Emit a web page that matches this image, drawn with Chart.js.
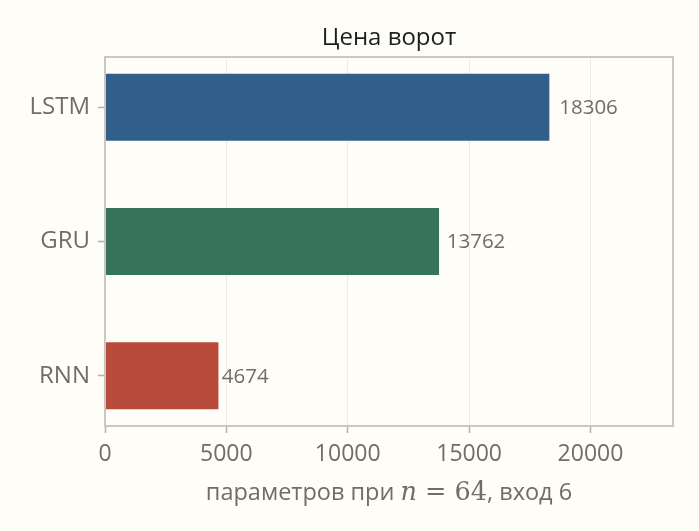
<!DOCTYPE html>
<html>
<head>
<meta charset="utf-8">
<script src="https://cdn.jsdelivr.net/npm/chart.js@4"></script>
<style>
  html, body { margin: 0; padding: 0; background: #fffdf8; }
  #wrap { width: 699px; height: 531px; }
</style>
</head>
<body>
<div id="wrap"><canvas id="gates"></canvas></div>
<script>
// данные
const categories = ['RNN', 'GRU', 'LSTM'];
const values = [4674, 13762, 18306];
const xTicks = [0, 5000, 10000, 15000, 20000];
const title = 'Цена ворот';
const xLabelParts = [
  { text: 'параметров при ', math: false },
  { text: 'n', math: 'italic' },
  { text: ' = 64', math: 'normal' },
  { text: ', вход 6', math: false }
];

const barColors = ['#b94b3d', '#37735c', '#2f5f8a'];
const gray = '#6e6e67';
const spine = '#cac8be';
const sans = "'Open Sans', sans-serif";
const serif = "'DejaVu Serif', serif";

Chart.defaults.font.family = sans;

// marco, título, etiquetas de valores y título del eje
const decor = {
  id: 'decor',
  afterDatasetsDraw(chart) {
    const { ctx, chartArea: a } = chart;
    const xs = chart.scales.x;
    ctx.save();

    ctx.font = '20.5px ' + sans;
    ctx.fillStyle = gray;
    ctx.textBaseline = 'middle';
    ctx.textAlign = 'left';
    chart.getDatasetMeta(0).data.forEach((bar, i) => {
      ctx.fillText(String(values[i]), xs.getPixelForValue(values[i] * 1.02) + 1, bar.y + 1);
    });

    ctx.strokeStyle = spine;
    ctx.lineWidth = 2;
    ctx.strokeRect(a.left, a.top, a.right - a.left, a.bottom - a.top);

    const cx = (a.left + a.right) / 2;
    ctx.font = '24px ' + sans;
    ctx.fillStyle = '#1e1e1e';
    ctx.textAlign = 'center';
    ctx.fillText(title, cx, 38);

    const fontOf = p => p.math === 'italic' ? 'italic 25.5px ' + serif
      : p.math === 'normal' ? '25.5px ' + serif : '23.5px ' + sans;
    let total = 0;
    xLabelParts.forEach(p => { ctx.font = fontOf(p); total += ctx.measureText(p.text).width; });
    let x = cx - total / 2;
    ctx.textAlign = 'left';
    ctx.fillStyle = gray;
    xLabelParts.forEach(p => {
      ctx.font = fontOf(p);
      ctx.fillText(p.text, x, 493);
      x += ctx.measureText(p.text).width;
    });
    ctx.restore();
  }
};

new Chart(document.getElementById('gates'), {
  type: 'bar',
  data: {
    datasets: [{
      data: values.map((v, i) => ({ x: v, y: i })),
      backgroundColor: barColors,
      borderWidth: 0,
      barPercentage: 0.5,
      categoryPercentage: 1
    }]
  },
  options: {
    indexAxis: 'y',
    responsive: true,
    maintainAspectRatio: false,
    animation: false,
    layout: { padding: { top: 57, right: 26, left: 0, bottom: 0 } },
    scales: {
      x: {
        type: 'linear',
        min: 0,
        max: 23400,
        afterFit: s => { s.height = 105; },
        afterBuildTicks: s => { s.ticks = xTicks.map(v => ({ value: v })); },
        ticks: { color: gray, font: { size: 23 }, padding: 8, maxRotation: 0, callback: v => String(v) },
        grid: { color: '#ecebe5', lineWidth: 1, tickColor: '#b3b1a7', tickLength: 7, tickWidth: 1.5 },
        border: { display: false }
      },
      y: {
        type: 'linear',
        offset: false,
        min: -0.375,
        max: 2.375,
        afterFit: s => { s.width = 105; },
        afterBuildTicks: s => { s.ticks = categories.map((c, i) => ({ value: i })); },
        ticks: { color: gray, font: { size: 24 }, padding: 8, callback: v => categories[v] },
        grid: { offset: false, drawOnChartArea: false, tickColor: '#b3b1a7', tickLength: 7, tickWidth: 1.5 },
        border: { display: false }
      }
    },
    plugins: {
      legend: { display: false },
      tooltip: { enabled: false },
      title: { display: false }
    }
  },
  plugins: [decor]
});
</script>
</body>
</html>
